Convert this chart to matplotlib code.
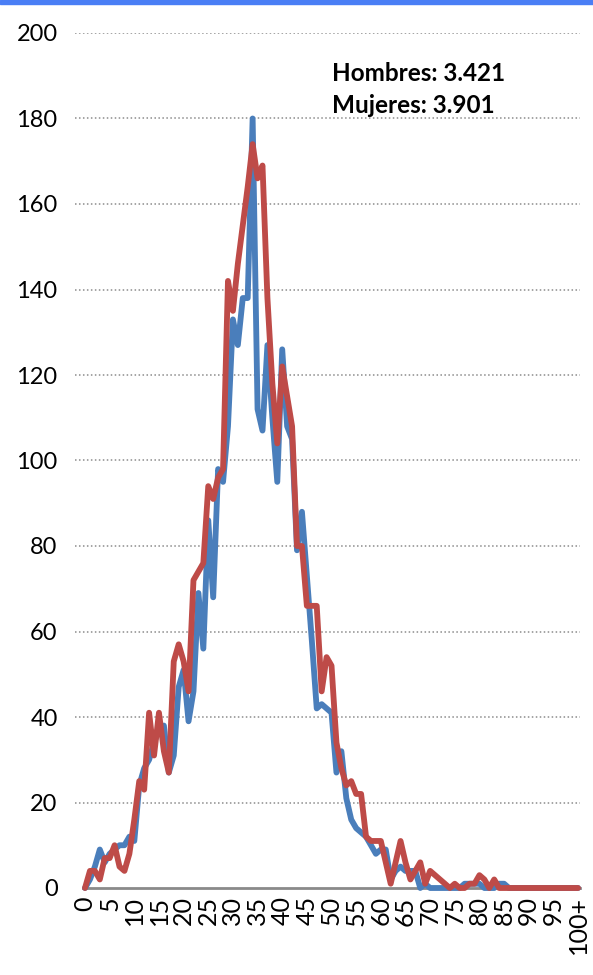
import matplotlib.pyplot as plt
from matplotlib.patches import Rectangle

plt.rcParams['font.family'] = ['Lato', 'DejaVu Sans']

ages = list(range(101))
age_labels = [str(a) if a < 100 else "100+" for a in ages]

hombres = [0, 2, 5, 9, 6, 8, 9, 10, 10, 12,
           11, 24, 28, 30, 34, 37, 38, 27, 31, 47,
           51, 39, 46, 69, 56, 86, 68, 98, 95, 108,
           133, 127, 138, 138, 180, 112, 107, 127, 110, 95,
           126, 108, 105, 79, 88, 73, 58, 42, 43, 42,
           41, 27, 32, 21, 16, 14, 13, 12, 10, 8,
           9, 9, 2, 4, 5, 4, 4, 4, 0, 1,
           0, 0, 0, 0, 0, 0, 0, 1, 1, 1,
           1, 0, 0, 0, 1, 1, 0, 0, 0, 0,
           0, 0, 0, 0, 0, 0, 0, 0, 0, 0, 0]

mujeres = [0, 4, 4, 2, 7, 7, 10, 5, 4, 8,
           16, 25, 23, 41, 31, 41, 32, 27, 53, 57,
           53, 46, 72, 74, 76, 94, 91, 96, 98, 142,
           135, 146, 155, 164, 174, 166, 169, 138, 118, 104,
           122, 115, 108, 80, 80, 66, 66, 66, 46, 54,
           52, 34, 28, 24, 25, 22, 22, 12, 11, 11,
           11, 6, 1, 6, 11, 6, 2, 4, 6, 1,
           4, 3, 2, 1, 0, 1, 0, 0, 1, 1,
           3, 2, 0, 2, 0, 0, 0, 0, 0, 0,
           0, 0, 0, 0, 0, 0, 0, 0, 0, 0, 0]

totales = ["Hombres: 3.421", "Mujeres: 3.901"]

fig = plt.figure(figsize=(5.93, 9.75), dpi=100)
fig.patches.append(Rectangle((0, 1 - 4 / 975), 1, 4 / 975, transform=fig.transFigure,
                             color="#4a7ef5", zorder=0))

ax = fig.add_axes([75 / 593, 87 / 975, 505 / 593, 855 / 975])
ax.plot(ages, hombres, color="#4a7ebb", lw=4.2, solid_joinstyle="round",
        solid_capstyle="round", clip_on=False, zorder=3)
ax.plot(ages, mujeres, color="#be4b48", lw=4.2, solid_joinstyle="round",
        solid_capstyle="round", clip_on=False, zorder=4)

ax.set_xlim(-2.03, 100.4)
ax.set_ylim(0, 200)
ax.set_yticks(range(0, 201, 20))
ax.set_xticks(ages[::5])
ax.set_xticklabels(age_labels[::5], rotation=90, fontsize=18)
ax.tick_params(axis="y", labelsize=17, length=0, pad=12.5)
ax.tick_params(axis="x", length=0, pad=6)

for y in range(20, 201, 20):
    ax.axhline(y, color="#8c8c8c", lw=1.1, linestyle=(0, (1, 1.6)), zorder=1)

for side in ["top", "right", "left"]:
    ax.spines[side].set_visible(False)
ax.spines["bottom"].set_color("#8a8a8a")
ax.spines["bottom"].set_linewidth(2)
ax.spines["bottom"].set_bounds(-0.4, 100.4)

ax.text(50.0, 190.5, totales[0], fontsize=17.5, fontweight="bold", ha="left", va="center")
ax.text(50.0, 183.0, totales[1], fontsize=17.5, fontweight="bold", ha="left", va="center")

fig.savefig("out.png", dpi=100)
